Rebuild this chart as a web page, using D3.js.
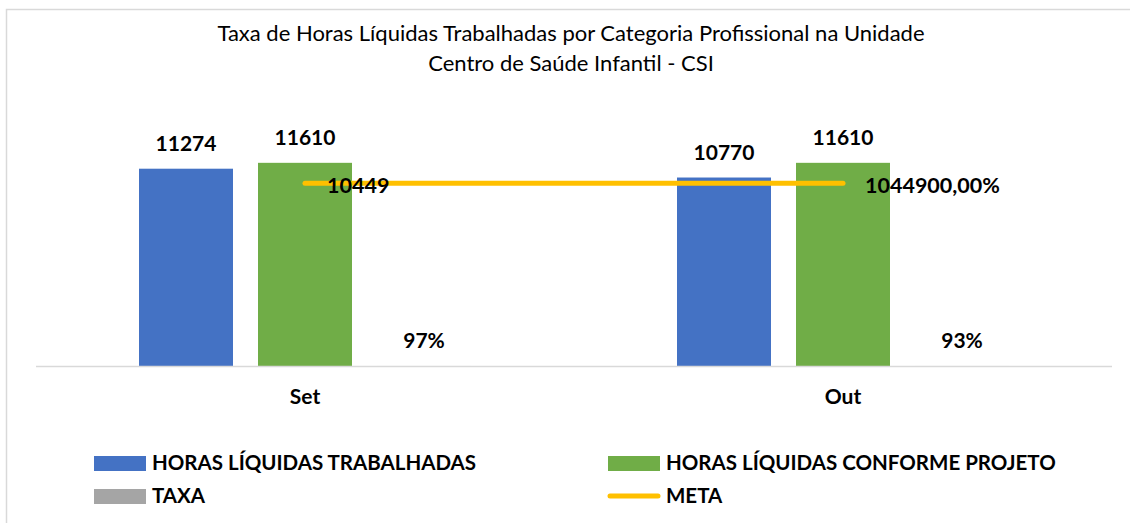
<!DOCTYPE html>
<html>
<head>
<meta charset="utf-8">
<script src="https://cdn.jsdelivr.net/npm/d3@7"></script>
<style>
  body { margin: 0; background: #fff; }
  text { font-family: Lato, "Open Sans", sans-serif; fill: #000; }
</style>
</head>
<body>
<div id="chart"></div>
<script>
// data
var categories = ["Set", "Out"];
var horasTrabalhadas = [11274, 10770];
var horasProjeto = [11610, 11610];
var taxa = [0.97, 0.93];
var taxaLabels = ["97%", "93%"];
var meta = [10449, 10449];
var metaLabels = ["10449", "1044900,00%"];
var titleLines = ["Taxa de Horas Líquidas Trabalhadas por Categoria Profissional na Unidade",
                  "Centro de Saúde Infantil - CSI"];

var width = 1130, height = 523;

var svg = d3.select("#chart").append("svg")
  .attr("width", width)
  .attr("height", height);

// chart frame (runs off the right and bottom)
svg.append("rect")
  .attr("x", 6.5).attr("y", 9.5)
  .attr("width", 1140).attr("height", 530)
  .attr("fill", "#fff")
  .attr("stroke", "#d9d9d9")
  .attr("stroke-width", 1.5);

// title
svg.append("g").selectAll("text")
  .data(titleLines)
  .enter().append("text")
  .attr("x", 571)
  .attr("y", function (d, i) { return 41 + i * 30; })
  .attr("text-anchor", "middle")
  .style("font-size", "22px")
  .text(function (d) { return d; });

var x = d3.scaleBand()
  .domain(categories)
  .range([36, 1112]);

var y = d3.scaleLinear()
  .domain([0, 14000])
  .range([366, 121]);

var barW = 94, barStep = 119;

var series = [
  { name: "HORAS LÍQUIDAS TRABALHADAS", values: horasTrabalhadas, color: "#4472C4", off: -1,
    labels: horasTrabalhadas.map(String) },
  { name: "HORAS LÍQUIDAS CONFORME PROJETO", values: horasProjeto, color: "#70AD47", off: 0,
    labels: horasProjeto.map(String) },
  { name: "TAXA", values: taxa, color: "#A5A5A5", off: 1, labels: taxaLabels }
];

function cx(cat, off) {
  return x(cat) + x.bandwidth() / 2 + off * barStep;
}

// bars
series.forEach(function (s) {
  var g = svg.append("g");
  g.selectAll("rect")
    .data(categories)
    .enter().append("rect")
    .attr("x", function (d) { return cx(d, s.off) - barW / 2; })
    .attr("y", function (d, i) { return y(s.values[i]); })
    .attr("width", barW)
    .attr("height", function (d, i) { return y(0) - y(s.values[i]); })
    .attr("fill", s.color);
});

// baseline
svg.append("line")
  .attr("x1", 36).attr("x2", 1112)
  .attr("y1", y(0) + 0.5).attr("y2", y(0) + 0.5)
  .attr("stroke", "#d9d9d9")
  .attr("stroke-width", 1.5);

// meta line
var line = d3.line()
  .x(function (d, i) { return cx(categories[i], 0); })
  .y(function (d) { return y(d); });

svg.append("path")
  .datum(meta)
  .attr("d", line)
  .attr("fill", "none")
  .attr("stroke", "#FFC000")
  .attr("stroke-width", 5)
  .attr("stroke-linecap", "round");

// bar labels
series.forEach(function (s) {
  svg.append("g").selectAll("text")
    .data(categories)
    .enter().append("text")
    .attr("x", function (d) { return cx(d, s.off); })
    .attr("y", function (d, i) { return y(s.values[i]) - 18; })
    .attr("text-anchor", "middle")
    .style("font-size", "21px")
    .style("font-weight", "bold")
    .text(function (d, i) { return s.labels[i]; });
});

// meta labels
svg.append("g").selectAll("text")
  .data(categories)
  .enter().append("text")
  .attr("x", function (d) { return cx(d, 0) + 22; })
  .attr("y", function (d, i) { return y(meta[i]) + 10; })
  .style("font-size", "21.5px")
  .style("font-weight", "bold")
  .text(function (d, i) { return metaLabels[i]; });

// category axis labels
svg.append("g").selectAll("text")
  .data(categories)
  .enter().append("text")
  .attr("x", function (d) { return cx(d, 0); })
  .attr("y", 404)
  .attr("text-anchor", "middle")
  .style("font-size", "21px")
  .style("font-weight", "bold")
  .text(function (d) { return d; });

// legend
var legendItems = [
  { name: series[0].name, color: series[0].color, type: "rect", lx: 94, ly: 463 },
  { name: series[1].name, color: series[1].color, type: "rect", lx: 608, ly: 463 },
  { name: series[2].name, color: series[2].color, type: "rect", lx: 94, ly: 496 },
  { name: "META", color: "#FFC000", type: "line", lx: 608, ly: 496 }
];

var lg = svg.append("g").selectAll("g")
  .data(legendItems)
  .enter().append("g")
  .attr("transform", function (d) { return "translate(" + d.lx + "," + d.ly + ")"; });

lg.filter(function (d) { return d.type === "rect"; })
  .append("rect")
  .attr("x", 0).attr("y", -7)
  .attr("width", 52).attr("height", 15)
  .attr("fill", function (d) { return d.color; });

lg.filter(function (d) { return d.type === "line"; })
  .append("line")
  .attr("x1", 2).attr("x2", 50)
  .attr("y1", 0).attr("y2", 0)
  .attr("stroke", function (d) { return d.color; })
  .attr("stroke-width", 5)
  .attr("stroke-linecap", "round");

lg.append("text")
  .attr("x", 58)
  .attr("y", 7)
  .style("font-size", "20.5px")
  .style("font-weight", "bold")
  .text(function (d) { return d.name; });
</script>
</body>
</html>
